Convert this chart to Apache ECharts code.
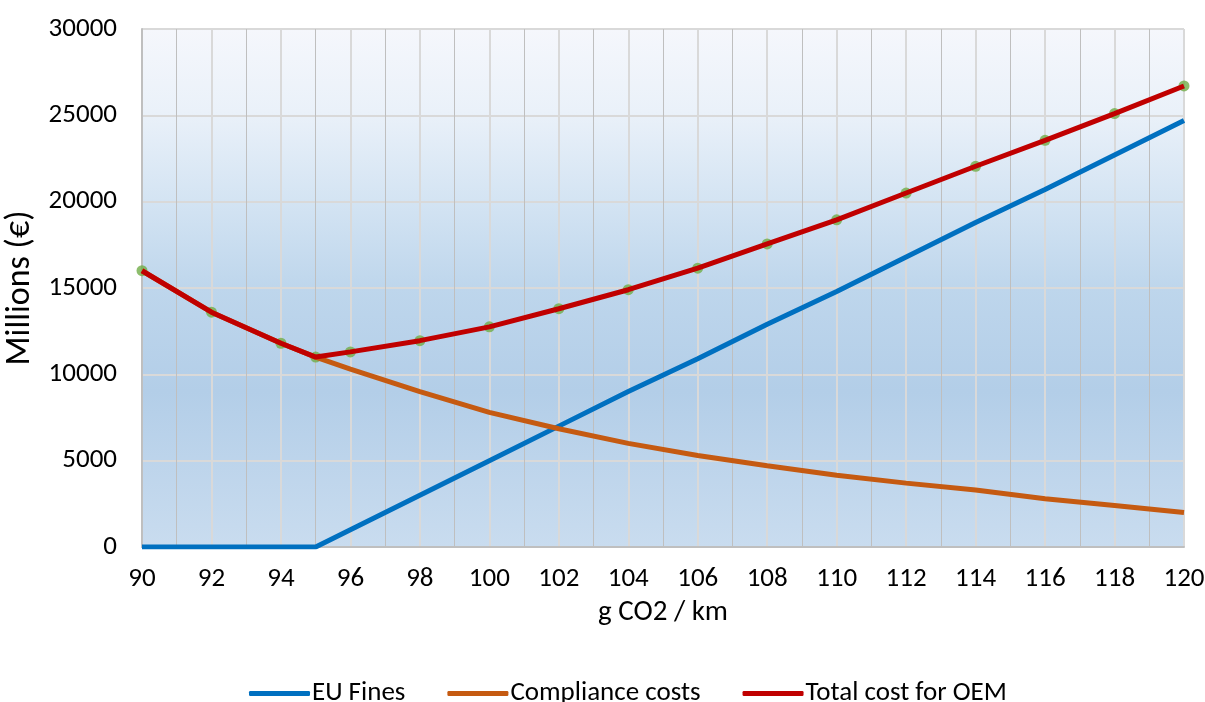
<!DOCTYPE html>
<html>
<head>
<meta charset="utf-8">
<script src="https://cdn.jsdelivr.net/npm/echarts@6/dist/echarts.min.js"></script>
<style>html,body{margin:0;padding:0;background:#fff}#c{width:1205px;height:702px}</style>
</head>
<body>
<div id="c"></div>
<script>
const xValues = [90, 92, 94, 95, 96, 98, 100, 102, 104, 106, 108, 110, 112, 114, 116, 118, 120];
const euFines = [0, 0, 0, 0, 1000, 3000, 5000, 7000, 9000, 10900, 12900, 14800, 16800, 18800, 20700, 22700, 24700];
const compliance = [16000, 13600, 11800, 11000, 10300, 9000, 7800, 6850, 6000, 5300, 4700, 4150, 3700, 3300, 2800, 2400, 2000];
const totalCost = [16000, 13600, 11800, 11000, 11300, 11950, 12750, 13800, 14900, 16150, 17550, 18950, 20500, 22050, 23550, 25100, 26700];
const seriesNames = ['EU Fines', 'Compliance costs', 'Total cost for OEM'];

const pair = arr => xValues.map((x, i) => [x, arr[i]]);
const font = 'Carlito, Lato, "Open Sans", "Noto Sans", sans-serif';

const chart = echarts.init(document.getElementById('c'));
chart.setOption({
  animation: false,
  grid: {
    left: 142, right: 21, top: 29, bottom: 155,
    containLabel: false, outerBoundsMode: 'none',
    show: true, borderWidth: 0,
    backgroundColor: new echarts.graphic.LinearGradient(0, 0, 0, 1, [
      { offset: 0, color: '#f5f7fc' },
      { offset: 0.16, color: '#eaf1f9' },
      { offset: 0.33, color: '#d4e4f3' },
      { offset: 0.5, color: '#bed6ec' },
      { offset: 0.7, color: '#b3cee8' },
      { offset: 1, color: '#c9dcef' }
    ])
  },
  legend: {
    data: seriesNames,
    top: 675, left: 244,
    icon: 'roundRect', itemWidth: 61, itemHeight: 5, itemGap: 42,
    textStyle: { fontFamily: font, fontSize: 27, color: '#000', padding: [0, 0, 0, -3] }
  },
  xAxis: {
    type: 'value', min: 90, max: 120, interval: 2,
    name: 'g CO2 / km', nameLocation: 'middle', nameGap: 51,
    nameTextStyle: { fontFamily: font, fontSize: 29, color: '#000' },
    axisLine: { show: true, lineStyle: { color: '#bfbfbf', width: 2 } },
    axisTick: { show: false },
    axisLabel: { fontFamily: font, fontSize: 27, color: '#000', margin: 19, formatter: v => String(v) },
    splitLine: { show: true, lineStyle: { color: '#d9d9d9', width: 2 } },
    minorTick: { show: false, splitNumber: 2 },
    minorSplitLine: { show: true, lineStyle: { color: '#bfbfbf', width: 1 } }
  },
  yAxis: {
    type: 'value', min: 0, max: 30000, interval: 5000,
    name: 'Millions (€)', nameLocation: 'middle', nameGap: 99, nameRotate: 90,
    nameTextStyle: { fontFamily: font, fontSize: 34, color: '#000' },
    axisLine: { show: true, lineStyle: { color: '#bfbfbf', width: 2 } },
    axisTick: { show: false },
    axisLabel: { fontFamily: font, fontSize: 27, color: '#000', margin: 25, formatter: v => String(v) },
    splitLine: { show: true, lineStyle: { color: '#d9d9d9', width: 2 } }
  },
  series: [
    {
      name: seriesNames[0], type: 'line', data: pair(euFines), z: 3,
      showSymbol: false, lineStyle: { color: '#0070c0', width: 5 }, itemStyle: { color: '#0070c0' }
    },
    {
      name: seriesNames[1], type: 'line', data: pair(compliance), z: 3,
      showSymbol: false, lineStyle: { color: '#c55a11', width: 5 }, itemStyle: { color: '#c55a11' }
    },
    {
      name: 'markers', type: 'scatter', data: pair(totalCost), z: 2,
      symbolSize: 11, itemStyle: { color: '#70ad47' }
    },
    {
      name: seriesNames[2], type: 'line', data: pair(totalCost), z: 4,
      showSymbol: false, lineStyle: { color: '#c00000', width: 5 }, itemStyle: { color: '#c00000' }
    }
  ]
});
</script>
</body>
</html>
